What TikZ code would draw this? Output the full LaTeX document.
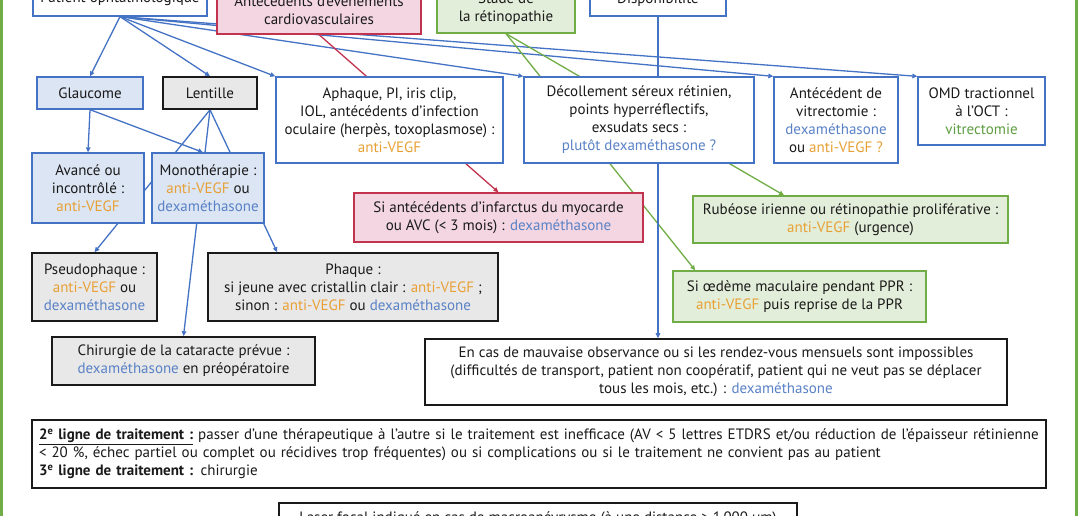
\documentclass[tikz,border=0pt]{standalone}
\usepackage{fontspec}
\setmainfont{PT Sans}
\usetikzlibrary{arrows.meta,positioning,calc,backgrounds}
\definecolor{ink}{HTML}{1A1A1A}
\definecolor{bl}{HTML}{4472C4}
\definecolor{blf}{HTML}{DCE5F3}
\definecolor{grf}{HTML}{E8E8E8}
\definecolor{rd}{HTML}{C2334D}
\definecolor{rdf}{HTML}{F3D6E1}
\definecolor{gn}{HTML}{70AD47}
\definecolor{gnf}{HTML}{E3EEDA}
\definecolor{orng}{HTML}{E8A035}
\definecolor{dexc}{HTML}{5A82C6}
\definecolor{vitc}{HTML}{5F9E42}
\tikzset{
  wbox/.style={draw=bl,fill=white,line width=1.3pt,align=center,inner sep=0pt,font=\fontsize{15}{18}\selectfont,text=ink},
  lbbox/.style={wbox,fill=blf},
  gbox/.style={wbox,draw=ink,fill=grf,line width=1.6pt},
  kbox/.style={wbox,draw=ink,line width=1.6pt},
  rbox/.style={wbox,draw=rd,fill=rdf},
  vbox/.style={wbox,draw=gn,fill=gnf},
  lnk/.style={-{Triangle[length=5pt,width=4.5pt]},line width=1.3pt,bl},
  lnkr/.style={lnk,rd},
  lnkg/.style={lnk,gn},
  frame/.style={draw=gn,line width=3pt}
}
\newcommand{\vegf}{\textcolor{orng}{anti-VEGF}}
\newcommand{\dexa}{\textcolor{dexc}{dexaméthasone}}

\begin{document}
\begin{tikzpicture}[x=1pt,y=-1pt]
\useasboundingbox (0,0) rectangle (1078,516);
\clip (0,0) rectangle (1078,516);
\draw[frame] (1.5,-10) rectangle (1076.5,530);
% ---------------- top row ----------------
\node[wbox,minimum width=174pt,minimum height=34pt] (patient) at (120,-1) {Patient ophtalmologique};
\node[rbox,minimum width=204pt,minimum height=48pt] (cardio) at (319,10) {Antécédents d'évènements\\cardiovasculaires};
\node[vbox,minimum width=138pt,minimum height=48pt] (stade) at (506,9) {Stade de\\la rétinopathie};
\node[wbox,minimum width=136pt,minimum height=32pt] (dispo) at (658,0) {Disponibilité};
% ---------------- second row ----------------
\node[lbbox,minimum width=106pt,minimum height=32pt] (glauc) at (90,93) {Glaucome};
\node[gbox,minimum width=94pt,minimum height=32pt] (lent) at (210,93) {Lentille};
\node[wbox,minimum width=227pt,minimum height=86pt] (aphaq) at (389.5,120) {Aphaque, PI, iris clip,\\IOL, antécédents d'infection\\oculaire (herpès, toxoplasmose) :\\\vegf};
\node[wbox,minimum width=230pt,minimum height=86pt] (decol) at (639,120) {Décollement séreux rétinien,\\points hyperréflectifs,\\exsudats secs :\\\textcolor{dexc}{plutôt dexaméthasone ?}};
\node[wbox,minimum width=124pt,minimum height=86pt] (vitre) at (836,120) {Antécédent de\\vitrectomie :\\\dexa\\ou \textcolor{orng}{anti-VEGF ?}};
\node[wbox,minimum width=127pt,minimum height=68pt] (omd) at (981.5,111) {OMD tractionnel\\à l'OCT :\\\textcolor{vitc}{vitrectomie}};
% ---------------- third row ----------------
\node[lbbox,minimum width=112pt,minimum height=70pt] (avance) at (88,188) {Avancé ou\\incontrôlé :\\\vegf};
\node[lbbox,minimum width=112pt,minimum height=70pt] (mono) at (208,188) {Monothérapie :\\\vegf{} ou\\\dexa};
\node[rbox,minimum width=289pt,minimum height=49pt] (infarct) at (498.5,217.5) {Si antécédents d'infarctus du myocarde\\ou AVC (< 3 mois) : \dexa};
\node[vbox,minimum width=315pt,minimum height=47pt] (rubeo) at (850.5,219.5) {Rubéose irienne ou rétinopathie proliférative :\\\vegf{} (urgence)};
\node[gbox,minimum width=125pt,minimum height=68pt] (pseudo) at (94.5,287) {Pseudophaque :\\\vegf{} ou\\\dexa};
\node[gbox,minimum width=290pt,minimum height=68pt] (phaq) at (353,287) {Phaque :\\si jeune avec cristallin clair : \vegf{} ;\\sinon : \vegf{} ou \dexa};
\node[vbox,minimum width=253pt,minimum height=51pt] (oedem) at (799.5,296.5) {Si œdème maculaire pendant PPR :\\\vegf{} puis reprise de la PPR};
\node[gbox,minimum width=263pt,minimum height=48pt] (chir) at (183.5,361) {Chirurgie de la cataracte prévue :\\\dexa{} en préopératoire};
\node[kbox,minimum width=582pt,minimum height=66pt] (encas) at (716,372) {En cas de mauvaise observance ou si les rendez-vous mensuels sont impossibles\\(difficultés de transport, patient non coopératif, patient qui ne veut pas se déplacer\\tous les mois, etc.) : \dexa};
% ---------------- bottom ----------------
\node[kbox,minimum width=1014pt,minimum height=68pt,align=left,text width=1000pt] (ligne) at (539,454) {\underline{\textbf{2\textsuperscript{e} ligne de traitement :}} passer d'une thérapeutique à l'autre si le traitement est inefficace (AV < 5 lettres ETDRS et/ou réduction de l'épaisseur rétinienne\\< 20 \%, échec partiel ou complet ou récidives trop fréquentes) ou si complications ou si le traitement ne convient pas au patient\\\textbf{3\textsuperscript{e} ligne de traitement :} chirurgie};
\node[kbox,minimum width=518pt,minimum height=32pt] (laser) at (538,519) {Laser focal indiqué en cas de macroanévrysme (à une distance > 1\,000 µm)};
% ---------------- connectors ----------------
\begin{scope}[on background layer]
\draw[lnk] (patient.south) -- (glauc.north);
\draw[lnk] (patient.south) -- (lent.north);
\draw[lnk] (patient.south) -- (aphaq.north west);
\draw[lnk] (patient.south) -- (decol.north west);
\draw[lnk] (patient.south) -- (vitre.north west);
\draw[lnk] (patient.south) -- (omd.north west);
\draw[lnkr] (cardio.south) -- (infarct.north);
\draw[lnkg] (stade.south) -- ($(rubeo.north west)!0.29!(rubeo.north east)$);
\draw[lnkg] (stade.south) -- ($(oedem.north west)!0.09!(oedem.north east)$);
\draw[lnk] (dispo.south) -- (dispo.south |- encas.north);
\draw[lnk] (glauc.south) -- (avance.north);
\draw[lnk] (glauc.south) -- ([xshift=-5pt]mono.north);
\draw[lnk] (lent.south) -- (pseudo.north);
\draw[lnk] (lent.south) -- ($(phaq.north west)!0.24!(phaq.north east)$);
\draw[lnk] (lent.south) -- (chir.north);
\end{scope}
\end{tikzpicture}
\end{document}
